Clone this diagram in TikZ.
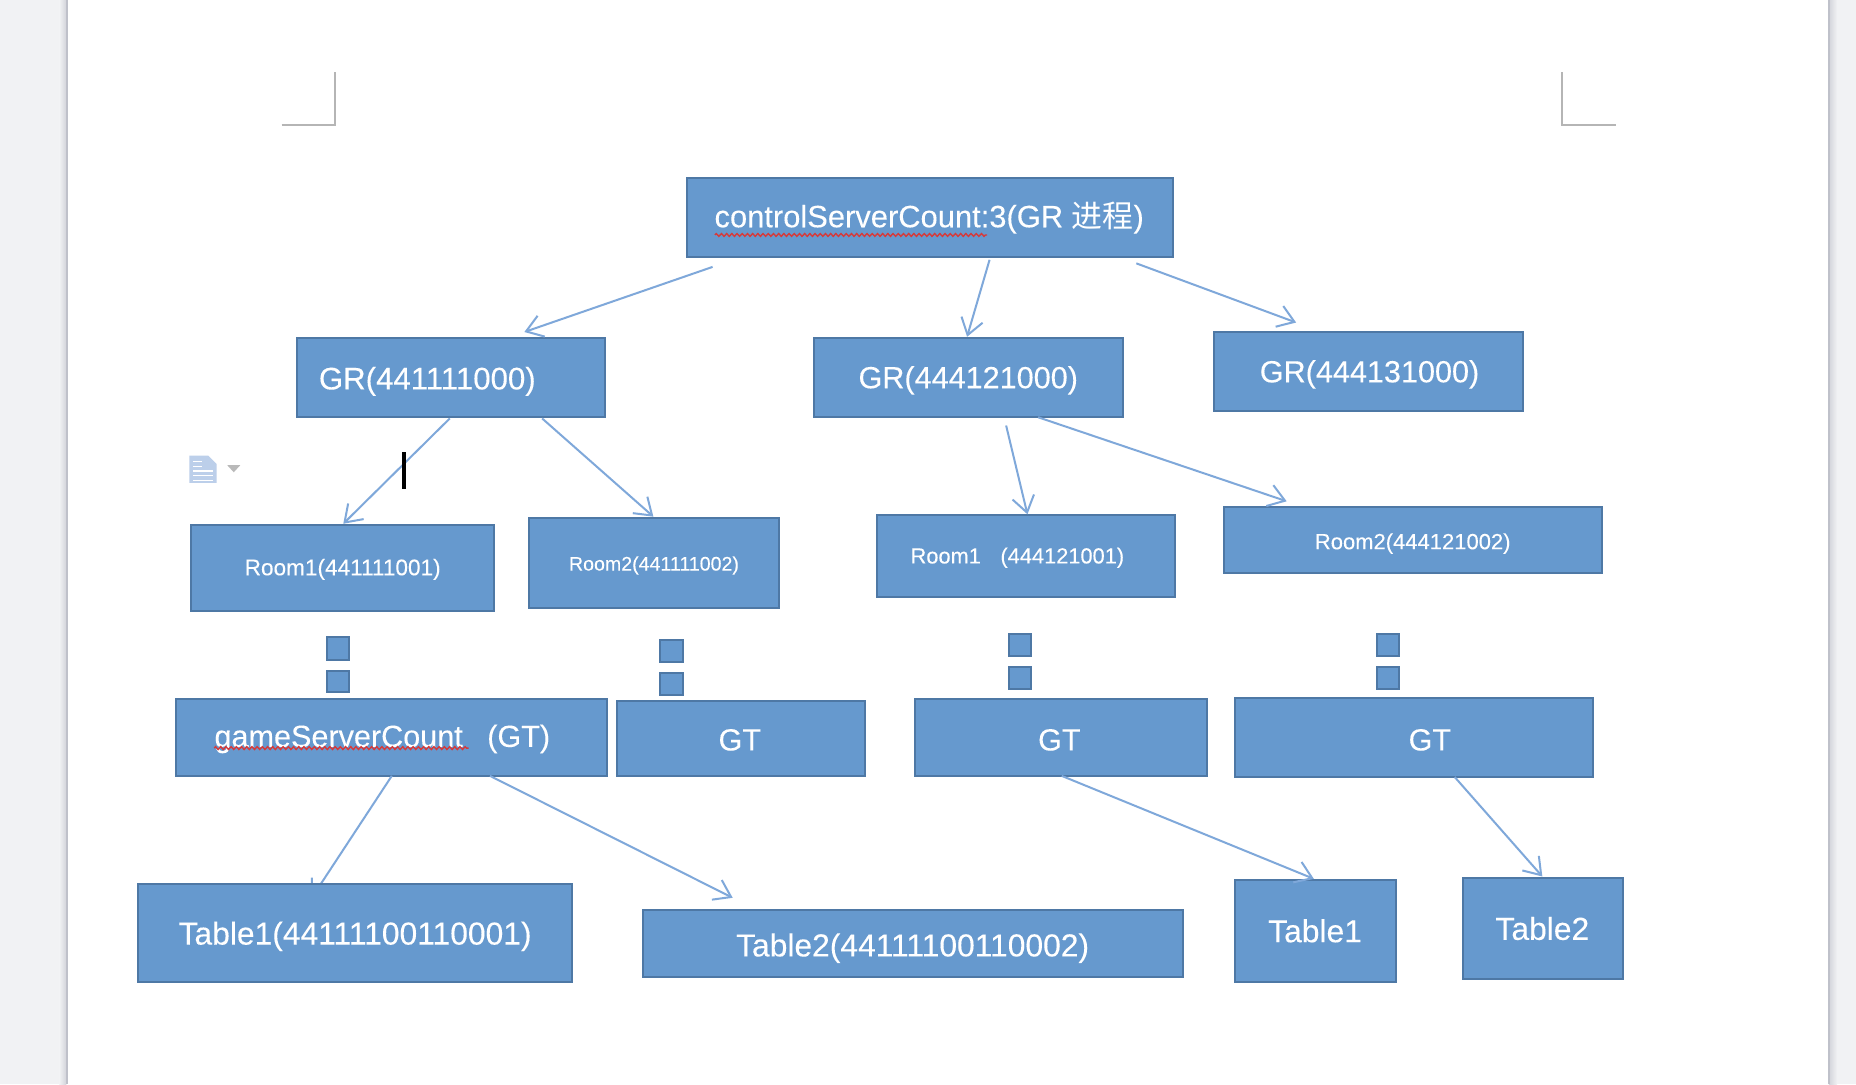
\documentclass[tikz,border=0pt]{standalone}
\usepackage{fontspec}
\setmainfont{Liberation Sans}
\newfontfamily\lblfont{Liberation Sans}[FakeBold=0.12]
\newfontfamily\cjkfont{Noto Sans CJK SC}
\usetikzlibrary{arrows.meta,decorations.pathmorphing,calc}
\definecolor{boxfill}{HTML}{6699CE}
\definecolor{boxline}{HTML}{4E78A5}
\definecolor{linkcol}{HTML}{7FA8DA}
\definecolor{deskcol}{HTML}{F1F2F4}
\definecolor{edgecol}{HTML}{BFC1CA}
\definecolor{markcol}{HTML}{B5B5B5}
\definecolor{iconcol}{HTML}{BCCFEA}
\definecolor{squigcol}{HTML}{D63A3A}
\tikzset{
  x=0.59185pt, y=-0.59185pt,
  boxshape/.style={draw=boxline, fill=boxfill, line width=1pt},
  lbl/.style={text=white, inner sep=0pt, anchor=base, font=\lblfont\fontsize{#1}{#1}\selectfont},
  link/.style={draw=linkcol, line width=1pt, -{Straight Barb[length=8pt,width=11pt,line width=1pt]}},
  squig/.style={draw=squigcol, line width=0.7pt, decorate, decoration={zigzag,amplitude=0.7pt,segment length=2.6pt}},
}
\newcommand{\bx}[5]{\path[boxshape] (#2,{#3+0.5}) rectangle (#4,{#5+0.5});
  \coordinate (#1 nw) at (#2,{#3+0.5}); \coordinate (#1 se) at (#4,{#5+0.5});
  \coordinate (#1 ne) at (#4,{#3+0.5}); \coordinate (#1 sw) at (#2,{#5+0.5});}
\begin{document}
\begin{tikzpicture}
\useasboundingbox (0,0) rectangle (1568,915.8);
% desk and page
\fill[deskcol] (0,0) rectangle (1568,915.8);
\shade[left color=deskcol, right color=edgecol!70] (50,0) rectangle (56,915.8);
\shade[left color=edgecol!70, right color=deskcol] (1545,0) rectangle (1552,915.8);
\fill[white] (57,0) rectangle (1544.5,915.8);
\draw[edgecol, line width=1.1pt] (56.5,0) -- (56.5,915.8);
\draw[edgecol, line width=1.1pt] (1545,0) -- (1545,915.8);
% crop marks
\draw[markcol, line width=1pt] (238,105.5) -- (283,105.5) -- (283,61);
\draw[markcol, line width=1pt] (1365,105.5) -- (1320,105.5) -- (1320,61);
% margin icon
\fill[iconcol] (160,385) -- (176,385) -- (183,392) -- (183,408) -- (160,408) -- cycle;
\draw[white, line width=0.6pt] (163,390) -- (171,390) (163,394) -- (171,394) (163,398) -- (180,398) (163,402) -- (180,402) (163,406) -- (180,406);
\fill[gray!55] (192,393) -- (203,393) -- (197.5,399) -- cycle;
% boxes
\bx{top}{580}{150}{991}{217}
\bx{gra}{251}{285}{511}{352}
\bx{grb}{688}{285}{949}{352}
\bx{grc}{1026}{280}{1287}{347}
\bx{ra}{161}{443}{417}{516}
\bx{rb}{447}{437}{658}{513}
\bx{rc}{741}{435}{993}{504}
\bx{rd}{1034}{428}{1353}{484}
\bx{sa}{276}{538}{295}{557}
\bx{sb}{276}{566}{295}{584}
\bx{sc}{558}{540}{577}{559}
\bx{sd}{558}{568}{577}{587}
\bx{se}{852}{535}{871}{554}
\bx{sf}{852}{563}{871}{582}
\bx{sg}{1163}{535}{1182}{554}
\bx{sh}{1163}{563}{1182}{582}
\bx{ga}{149}{590}{513}{655}
\bx{gb}{521}{592}{731}{655}
\bx{gc}{773}{590}{1020}{655}
\bx{gd}{1043}{589}{1346}{656}
% this connector's head lies mostly behind its target box
\coordinate (tiptab) at (263,759);
\draw[link] ($(ga sw)+(182,0)$) -- (tiptab);
\bx{ta}{117}{746}{483}{829}
\bx{tb}{543}{768}{999}{825}
\bx{tc}{1043}{743}{1179}{829}
\bx{td}{1236}{741}{1371}{827}
% labels
\node[lbl=15.45] (ltop) at (785,192) {controlServerCount:3(GR {\cjkfont 进程})};
\node[lbl=15.6] (lgra) at (361,329) {GR(441111000)};
\node[lbl=15.3] (lgrb) at (818,328) {GR(444121000)};
\node[lbl=15.3] (lgrc) at (1157,323) {GR(444131000)};
\node[lbl=11.3] (lra) at (289.5,486) {Room1(441111001)};
\node[lbl=9.8] (lrb) at (552.5,482) {Room2(441111002)};
\node[lbl=10.9] (lrc) at (859.5,476) {Room1\hspace{0.9em}(444121001)};
\node[lbl=11] (lrd) at (1193.5,464) {Room2(444121002)};
\node[lbl=15.3] (lga) at (323,631) {gameServerCount\hspace{0.8em}(GT)};
\node[lbl=15.3] (lgb) at (625,634) {GT};
\node[lbl=15.3] (lgc) at (895,634) {GT};
\node[lbl=15.3] (lgd) at (1208,634) {GT};
\node[lbl=15.9] (lta) at (300,798) {Table1(44111100110001)};
\node[lbl=15.9] (ltb) at (771,808) {Table2(44111100110002)};
\node[lbl=15.9] (ltc) at (1111,796) {Table1};
\node[lbl=15.9] (ltd) at (1303,794) {Table2};
% spell-check squiggles
\draw[squig] (604,198.5) -- (834,198.5);
\draw[squig] (181,632) -- (396,632);
% connectors
\draw[link] ($(top sw)+(22,8)$) -- ($(gra nw)+(192,-5)$);
\draw[link] ($(top sw)+(256,2)$) -- ($(grb nw)+(129,-1)$);
\draw[link] ($(top sw)+(380,5)$) -- ($(grc nw)+(69,-8)$);
\draw[link] ($(gra sw)+(129,1)$) -- ($(ra nw)+(129,-1)$);
\draw[link] ($(gra sw)+(207,1)$) -- ($(rb nw)+(105,-1)$);
\draw[link] ($(grb sw)+(162,7)$) -- ($(rc nw)+(127,-1)$);
\draw[link] ($(grb sw)+(189,0)$) -- ($(rd nw)+(53,-5)$);
\draw[link] ($(ga sw)+(265,0)$) -- ($(tb nw)+(76,-10)$);
\draw[link] ($(gc sw)+(124,0)$) -- ($(tc nw)+(67,-1)$);
\draw[link] ($(gd sw)+(186,0)$) -- ($(td nw)+(67,-1)$);
% caret
\draw[black, line width=1.9pt] (341,382) -- (341,413);
\end{tikzpicture}
\end{document}
